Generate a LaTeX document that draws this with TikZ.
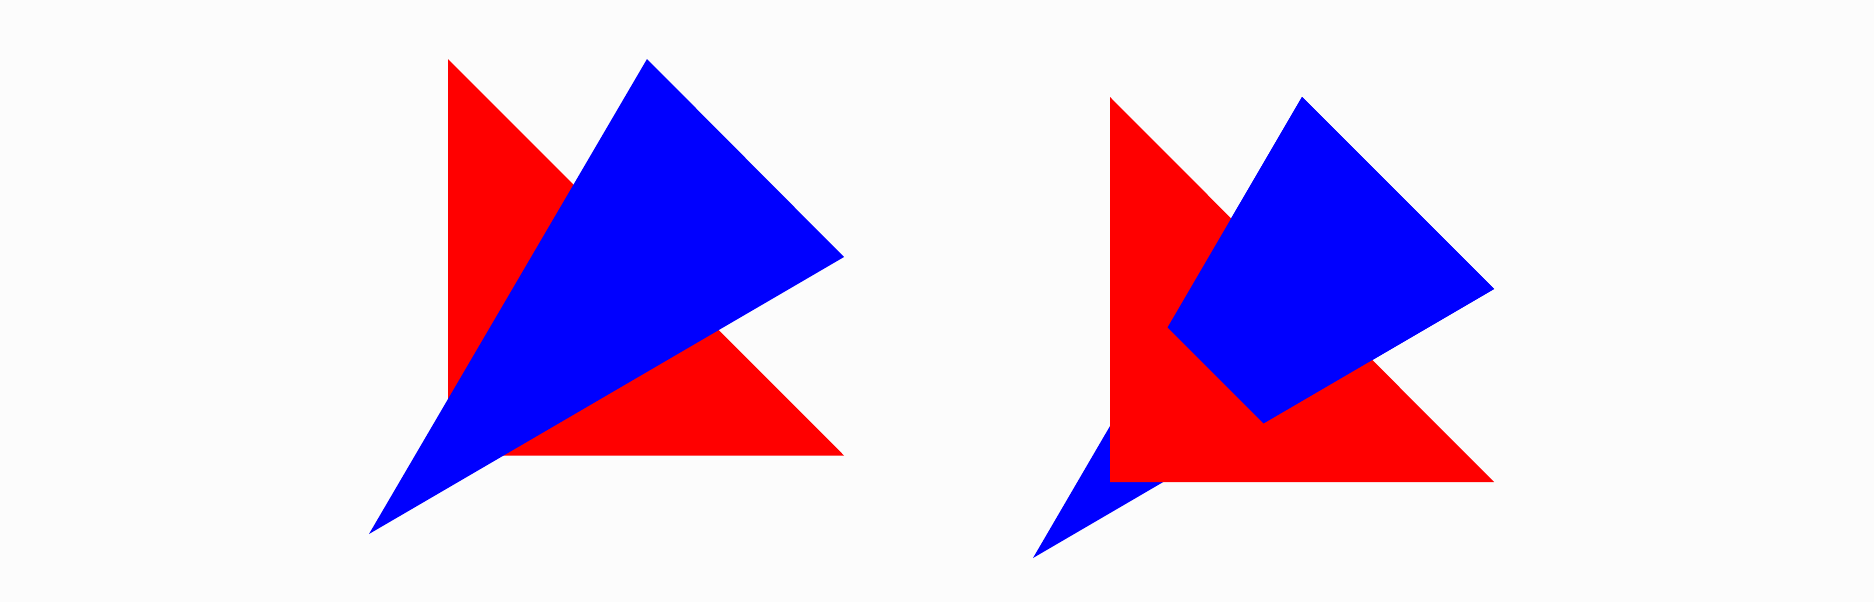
\documentclass[tikz,border=0pt]{standalone}
\usepackage{xcolor}
\usepackage{tikz}
\usetikzlibrary{calc}
\definecolor{bgpage}{RGB}{252,252,252}

\begin{document}
\begin{tikzpicture}[x=0.2mm, y=-0.2mm]
    \useasboundingbox (0,0) rectangle (1874,602);
    \fill[bgpage] (0,0) rectangle (1874,602);
    % left: blue lies over red
    \fill[red] (448,59) -- (448,455.5) -- (844,455.5) -- cycle;
    \fill[blue] (647,59) -- (844,257) -- (369,534) -- cycle;
    % right: the two cut through each other
    \coordinate (ta) at (1302,97);
    \coordinate (tb) at (1494,289);
    \coordinate (tc) at (1033,558);
    \fill[blue] (ta) -- (tb) -- (tc) -- cycle;
    \fill[red] (1110,97) -- (1110,482) -- (1494,482) -- cycle;
    \fill[blue] (ta) -- (tb) -- ($(tb)!0.5!(tc)$) -- ($(ta)!0.5!(tc)$) -- cycle;
\end{tikzpicture}
\end{document}
